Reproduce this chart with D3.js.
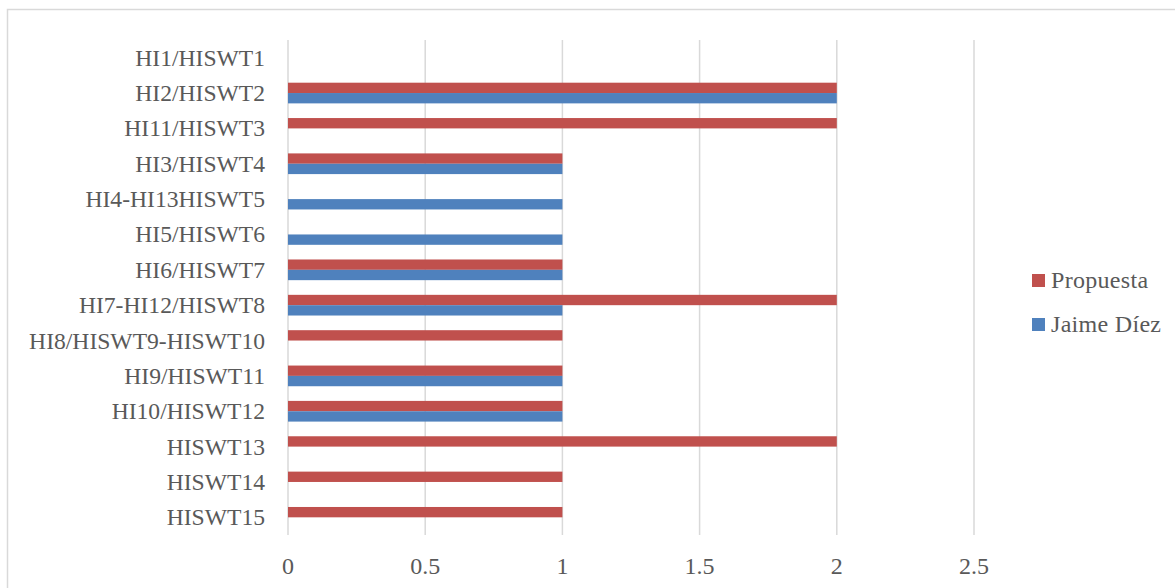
<!DOCTYPE html>
<html>
<head>
<meta charset="utf-8">
<script src="https://cdn.jsdelivr.net/npm/d3@7"></script>
<style>
  html, body { margin: 0; padding: 0; background: #fff; }
  svg { display: block; }
  text { font-family: "Liberation Serif", "DejaVu Serif", serif; fill: #595959; }
</style>
</head>
<body>
<svg id="chart" width="1175" height="588"></svg>
<script>
// Categories, top to bottom
const categories = [
  "HI1/HISWT1", "HI2/HISWT2", "HI11/HISWT3", "HI3/HISWT4", "HI4-HI13HISWT5",
  "HI5/HISWT6", "HI6/HISWT7", "HI7-HI12/HISWT8", "HI8/HISWT9-HISWT10",
  "HI9/HISWT11", "HI10/HISWT12", "HISWT13", "HISWT14", "HISWT15"
];
const seriesNames = ["Propuesta", "Jaime Díez"];
const propuesta = [0, 2, 2, 1, 0, 0, 1, 2, 1, 1, 1, 2, 1, 1];
const jaimeDiez = [0, 2, 0, 1, 1, 1, 1, 1, 0, 1, 1, 0, 0, 0];
const xTicks = [0, 0.5, 1, 1.5, 2, 2.5];
const seriesColors = ["#C0504D", "#4F81BD"];

const rows = categories.map((c, i) => ({ cat: c, values: [propuesta[i], jaimeDiez[i]] }));

const svg = d3.select("#chart");

// Outer chart frame (runs off the right and bottom edges)
svg.append("rect")
  .attr("x", 7.5).attr("y", 9.5)
  .attr("width", 1200).attr("height", 600)
  .attr("fill", "none").attr("stroke", "#D9D9D9").attr("stroke-width", 1.5);

const plot = { left: 288, right: 974, top: 40, bottom: 535 };

const x = d3.scaleLinear().domain([0, 2.5]).range([plot.left, plot.right]);
const y = d3.scaleBand().domain(categories).range([plot.top, plot.bottom]).paddingInner(0).paddingOuter(0);
const groupH = y.bandwidth() * 0.585;
const ySub = d3.scaleBand().domain(seriesNames).range([0, groupH]).padding(0);

// Vertical gridlines
svg.append("g").selectAll("line")
  .data(xTicks)
  .join("line")
  .attr("x1", d => x(d)).attr("x2", d => x(d))
  .attr("y1", plot.top).attr("y2", plot.bottom)
  .attr("stroke", "#D9D9D9").attr("stroke-width", 1.5);

// Bars
const groups = svg.append("g").selectAll("g")
  .data(rows)
  .join("g")
  .attr("transform", d => `translate(0,${y(d.cat) + (y.bandwidth() - groupH) / 2})`);

groups.selectAll("rect")
  .data(d => d.values.map((v, k) => ({ name: seriesNames[k], value: v, k })))
  .join("rect")
  .filter(d => d.value > 0)
  .attr("x", x(0))
  .attr("y", d => ySub(d.name))
  .attr("width", d => x(d.value) - x(0))
  .attr("height", ySub.bandwidth())
  .attr("fill", d => seriesColors[d.k]);

// Category labels
svg.append("g").selectAll("text")
  .data(categories)
  .join("text")
  .attr("x", 265)
  .attr("y", d => y(d) + y.bandwidth() / 2)
  .attr("dy", "0.34em")
  .attr("text-anchor", "end")
  .attr("font-size", 23.6)
  .text(d => d);

// Value axis labels
svg.append("g").selectAll("text")
  .data(xTicks)
  .join("text")
  .attr("x", d => x(d))
  .attr("y", 574)
  .attr("text-anchor", "middle")
  .attr("font-size", 24)
  .text(d => d3.format("~g")(d));

// Legend
const legend = svg.append("g").attr("transform", "translate(1032,274)");
const items = legend.selectAll("g")
  .data(seriesNames)
  .join("g")
  .attr("transform", (d, i) => `translate(0,${i * 44})`);
items.append("rect")
  .attr("width", 13).attr("height", 13)
  .attr("fill", (d, i) => seriesColors[i]);
items.append("text")
  .attr("x", 19).attr("y", 14)
  .attr("font-size", 24)
  .attr("letter-spacing", 0.3)
  .text(d => d);
</script>
</body>
</html>
